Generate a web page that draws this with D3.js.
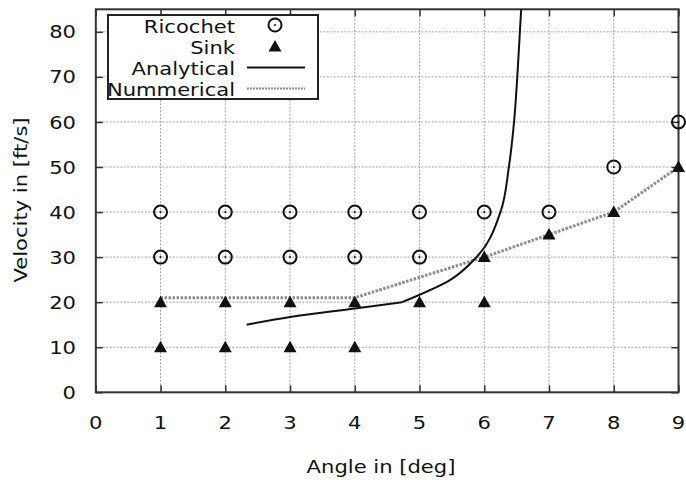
<!DOCTYPE html>
<html>
<head>
<meta charset="utf-8">
<script src="https://cdn.jsdelivr.net/npm/d3@7"></script>
<style>
  body { margin: 0; background: #fff; }
  text { font-family: "DejaVu Sans", sans-serif; fill: #111; }
</style>
</head>
<body>
<div id="chart"></div>
<script>
// ricochet / sink observations (angle in deg, velocity in ft/s)
var ricochetAngle = [1, 1, 2, 2, 3, 3, 4, 4, 5, 5, 6, 7, 8, 9];
var ricochetVel   = [30, 40, 30, 40, 30, 40, 30, 40, 30, 40, 40, 40, 50, 60];
var sinkAngle = [1, 1, 2, 2, 3, 3, 4, 4, 5, 6, 6, 7, 8, 9];
var sinkVel   = [10, 20, 10, 20, 10, 20, 10, 20, 20, 20, 30, 35, 40, 50];

// analytical curve (kink at index 3)
var analyticalAngle = [2.33, 3, 4, 4.73, 5.47, 5.88, 6.25, 6.38, 6.46, 6.51, 6.55, 6.57];
var analyticalVel   = [15, 16.7, 18.6, 20, 24.9, 30, 40, 50, 60, 70, 80, 85];
var analyticalKink = 3;

// numerical curve
var numericalAngle = [1, 4, 6, 7, 8, 9];
var numericalVel   = [21, 21, 30, 35, 40, 50];

var xTicks = [0, 1, 2, 3, 4, 5, 6, 7, 8, 9];
var yTicks = [0, 10, 20, 30, 40, 50, 60, 70, 80];

var legendLabels = ['Ricochet', 'Sink', 'Analytical', 'Nummerical'];

var width = 686, height = 480;
var stretch = 1.14; // glyphs in the picture are a little wide

var svg = d3.select('#chart').append('svg')
  .attr('width', width)
  .attr('height', height);

var x = d3.scaleLinear().domain([0, 9]).range([95.8, 678.5]);
var y = d3.scaleLinear().domain([0, 85]).range([392.3, 9.3]);

function label(g, tx, ty, str, anchor, rot) {
  return g.append('text')
    .attr('transform', 'translate(' + tx + ',' + ty + ')' + (rot ? ' rotate(' + rot + ')' : '') + ' scale(' + stretch + ',1)')
    .attr('text-anchor', anchor)
    .style('font-size', '18.5px')
    .text(str);
}

// grid
var grid = svg.append('g').attr('stroke', '#a0a0a0').attr('stroke-width', 1).attr('stroke-dasharray', '2,1.5');
grid.selectAll('.gx').data(xTicks.filter(function(d){ return d > 0 && d < 9; }))
  .enter().append('line')
  .attr('x1', function(d){ return x(d); }).attr('x2', function(d){ return x(d); })
  .attr('y1', y(0)).attr('y2', y(85));
grid.selectAll('.gy').data(yTicks.filter(function(d){ return d > 0; }))
  .enter().append('line')
  .attr('y1', function(d){ return y(d); }).attr('y2', function(d){ return y(d); })
  .attr('x1', x(0)).attr('x2', x(9));

// tick marks on all four sides, pointing in
var tk = 7;
svg.append('g').attr('transform', 'translate(0,' + y(0) + ')')
  .call(d3.axisBottom(x).tickValues(xTicks).tickSize(-tk).tickFormat(''));
svg.append('g').attr('transform', 'translate(0,' + y(85) + ')')
  .call(d3.axisTop(x).tickValues(xTicks).tickSize(-tk).tickFormat(''));
svg.append('g').attr('transform', 'translate(' + x(0) + ',0)')
  .call(d3.axisLeft(y).tickValues(yTicks).tickSize(-tk).tickFormat(''));
svg.append('g').attr('transform', 'translate(' + x(9) + ',0)')
  .call(d3.axisRight(y).tickValues(yTicks).tickSize(-tk).tickFormat(''));
svg.selectAll('.domain').remove();
svg.selectAll('.tick line').attr('stroke', '#333').attr('stroke-width', 1.5);

// frame
svg.append('rect')
  .attr('x', x(0)).attr('y', y(85))
  .attr('width', x(9) - x(0)).attr('height', y(0) - y(85))
  .attr('fill', 'none').attr('stroke', '#333').attr('stroke-width', 2);

// tick labels
xTicks.forEach(function(d){ label(svg, x(d), 428.6, d, 'middle'); });
yTicks.forEach(function(d){ label(svg, 76, y(d) + 6.6, d, 'end'); });

// axis titles
label(svg, 381, 473, 'Angle in [deg]', 'middle');
label(svg, 27, 200, 'Velocity in [ft/s]', 'middle', -90);

// curves
var line = d3.line()
  .x(function(d){ return x(d[0]); })
  .y(function(d){ return y(d[1]); });
var smoothX = d3.line()
  .curve(d3.curveMonotoneX)
  .x(function(d){ return x(d[0]); })
  .y(function(d){ return y(d[1]); });
var smoothY = d3.line()
  .curve(d3.curveMonotoneY)
  .x(function(d){ return x(d[0]); })
  .y(function(d){ return y(d[1]); });

var numPts = d3.zip(numericalAngle, numericalVel);
var anaPts = d3.zip(analyticalAngle, analyticalVel);

svg.append('path').datum(numPts)
  .attr('d', line)
  .attr('fill', 'none').attr('stroke', '#8c8c8c')
  .attr('stroke-width', 3).attr('stroke-dasharray', '2.5,1.5');

svg.append('defs').append('clipPath').attr('id', 'clip')
  .append('rect').attr('x', x(0)).attr('y', y(85))
  .attr('width', x(9) - x(0)).attr('height', y(0) - y(85));

svg.append('path').datum(anaPts.slice(0, analyticalKink + 1))
  .attr('d', smoothX)
  .attr('fill', 'none').attr('stroke', '#111').attr('stroke-width', 2);
svg.append('path').datum(anaPts.slice(analyticalKink))
  .attr('clip-path', 'url(#clip)')
  .attr('d', smoothY)
  .attr('fill', 'none').attr('stroke', '#111').attr('stroke-width', 2);

// markers
function ricochet(g, cx, cy) {
  g.append('circle').attr('cx', cx).attr('cy', cy).attr('r', 6.5)
    .attr('fill', 'none').attr('stroke', '#111').attr('stroke-width', 2);
  g.append('circle').attr('cx', cx).attr('cy', cy).attr('r', 1).attr('fill', '#111');
}
function sink(g, cx, cy) {
  g.append('path')
    .attr('d', 'M' + (cx - 6.5) + ',' + (cy + 5) + 'L' + (cx + 6.5) + ',' + (cy + 5) + 'L' + cx + ',' + (cy - 6.5) + 'Z')
    .attr('fill', '#111');
}

var marks = svg.append('g');
d3.zip(ricochetAngle, ricochetVel).forEach(function(d){ ricochet(marks, x(d[0]), y(d[1])); });
d3.zip(sinkAngle, sinkVel).forEach(function(d){ sink(marks, x(d[0]), y(d[1])); });

// legend
var lg = svg.append('g');
lg.append('rect').attr('x', 108).attr('y', 15).attr('width', 210).attr('height', 84)
  .attr('fill', '#fff').attr('stroke', '#222').attr('stroke-width', 2);
var rowY = [25, 46.5, 67.5, 88.5];
legendLabels.forEach(function(t, i){ label(lg, 235, rowY[i] + 7.5, t, 'end'); });
ricochet(lg, 275, rowY[0]);
sink(lg, 275, rowY[1]);
lg.append('line').attr('x1', 247).attr('x2', 305).attr('y1', rowY[2]).attr('y2', rowY[2])
  .attr('stroke', '#111').attr('stroke-width', 2);
lg.append('line').attr('x1', 247).attr('x2', 305).attr('y1', rowY[3]).attr('y2', rowY[3])
  .attr('stroke', '#8c8c8c').attr('stroke-width', 2).attr('stroke-dasharray', '2,1');
</script>
</body>
</html>
